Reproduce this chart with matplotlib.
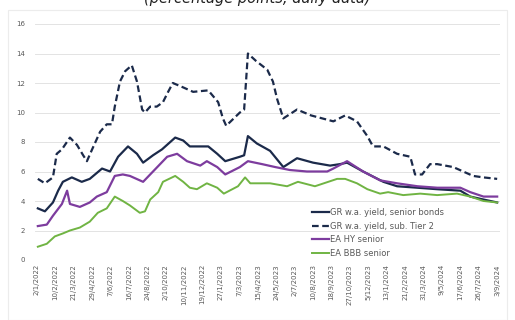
import matplotlib
matplotlib.use('Agg')
import pandas as pd
import numpy as np
from matplotlib import pyplot as plt
from matplotlib.patches import Rectangle

# GR w.a. yield, senior bonds
sr_dates = ['2022-01-04', '2022-01-19', '2022-02-05', '2022-02-16', '2022-02-26', '2022-03-17',
            '2022-04-07', '2022-04-24', '2022-05-20', '2022-06-06', '2022-06-23', '2022-07-14',
            '2022-08-02', '2022-08-15', '2022-09-05', '2022-09-24', '2022-10-22', '2022-11-08',
            '2022-11-22', '2022-12-14', '2022-12-31', '2023-01-19', '2023-02-05', '2023-03-08',
            '2023-03-17', '2023-03-25', '2023-04-13', '2023-05-11', '2023-06-08', '2023-07-07',
            '2023-08-10', '2023-09-15', '2023-10-06', '2023-10-21', '2023-11-24', '2024-01-06',
            '2024-02-04', '2024-03-18', '2024-04-29', '2024-06-17', '2024-07-08', '2024-08-05',
            '2024-09-03']
sr_vals = [3.5, 3.3, 3.9, 4.7, 5.3, 5.6, 5.3, 5.5, 6.2, 6.0, 7.0, 7.7, 7.2, 6.6, 7.1, 7.5, 8.3, 8.1,
           7.7, 7.7, 7.7, 7.2, 6.7, 7.0, 7.1, 8.4, 7.9, 7.4, 6.3, 6.9, 6.6, 6.4, 6.5, 6.6, 6.0, 5.3,
           5.0, 4.9, 4.8, 4.7, 4.3, 4.1, 3.9]

# GR w.a. yield, sub. Tier 2
t2_dates = ['2022-01-04', '2022-01-19', '2022-02-05', '2022-02-13', '2022-02-24', '2022-03-13',
            '2022-03-28', '2022-04-10', '2022-04-18', '2022-04-29', '2022-05-16', '2022-05-30',
            '2022-06-10', '2022-06-16', '2022-06-27', '2022-07-08', '2022-07-22', '2022-08-02',
            '2022-08-13', '2022-08-19', '2022-08-30', '2022-09-13', '2022-09-26', '2022-10-07',
            '2022-10-17', '2022-11-08', '2022-11-29', '2022-12-31', '2023-01-21', '2023-01-31',
            '2023-02-07', '2023-03-08', '2023-03-17', '2023-03-25', '2023-04-11', '2023-05-05',
            '2023-05-17', '2023-05-26', '2023-06-08', '2023-07-07', '2023-08-06', '2023-09-22',
            '2023-10-17', '2023-11-11', '2023-12-03', '2023-12-15', '2024-01-06', '2024-02-04',
            '2024-03-03', '2024-03-13', '2024-03-28', '2024-04-14', '2024-04-29', '2024-06-02',
            '2024-06-23', '2024-07-14', '2024-08-05', '2024-09-03']
t2_vals = [5.5, 5.2, 5.6, 7.2, 7.5, 8.3, 7.8, 7.1, 6.7, 7.5, 8.7, 9.2, 9.2, 10.4, 12.1, 12.8, 13.2,
           12.1, 10.2, 10.0, 10.4, 10.4, 10.7, 11.4, 12.0, 11.7, 11.4, 11.5, 10.7, 9.6, 9.1, 10.0,
           10.2, 14.0, 13.5, 12.9, 12.1, 10.9, 9.6, 10.2, 9.8, 9.4, 9.8, 9.4, 8.4, 7.7, 7.7, 7.2,
           7.0, 5.8, 5.8, 6.5, 6.5, 6.3, 6.0, 5.7, 5.6, 5.5]

# EA HY senior
hy_dates = ['2022-01-04', '2022-01-23', '2022-02-05', '2022-02-24', '2022-03-07', '2022-03-13',
            '2022-04-03', '2022-04-24', '2022-05-09', '2022-05-30', '2022-06-16', '2022-07-03',
            '2022-07-18', '2022-08-15', '2022-09-05', '2022-10-05', '2022-10-26', '2022-11-16',
            '2022-12-14', '2022-12-28', '2023-01-19', '2023-02-05', '2023-03-08', '2023-03-25',
            '2023-04-24', '2023-05-22', '2023-06-22', '2023-07-28', '2023-09-09', '2023-09-22',
            '2023-10-21', '2023-11-24', '2023-12-30', '2024-02-04', '2024-03-18', '2024-04-29',
            '2024-06-17', '2024-07-08', '2024-08-05', '2024-09-03']
hy_vals = [2.3, 2.4, 3.0, 3.8, 4.7, 3.8, 3.6, 3.9, 4.3, 4.6, 5.7, 5.8, 5.7, 5.3, 6.0, 7.0, 7.2, 6.7,
           6.4, 6.7, 6.3, 5.8, 6.3, 6.7, 6.5, 6.3, 6.1, 6.0, 6.0, 6.2, 6.7, 6.0, 5.4, 5.2, 5.0, 4.9,
           4.9, 4.6, 4.3, 4.3]

# EA BBB senior
bbb_dates = ['2022-01-04', '2022-01-23', '2022-02-09', '2022-02-26', '2022-03-13', '2022-04-03',
             '2022-04-24', '2022-05-11', '2022-05-30', '2022-06-16', '2022-07-03', '2022-07-18',
             '2022-08-08', '2022-08-19', '2022-08-30', '2022-09-16', '2022-09-26', '2022-10-22',
             '2022-11-08', '2022-11-22', '2022-12-07', '2022-12-28', '2023-01-19', '2023-02-02',
             '2023-03-04', '2023-03-19', '2023-03-30', '2023-05-11', '2023-06-16', '2023-07-09',
             '2023-08-14', '2023-09-30', '2023-10-17', '2023-11-11', '2023-12-03', '2023-12-30',
             '2024-01-16', '2024-02-17', '2024-03-24', '2024-04-29', '2024-06-10', '2024-07-08',
             '2024-08-05', '2024-09-03']
bbb_vals = [0.9, 1.1, 1.6, 1.8, 2.0, 2.2, 2.6, 3.2, 3.5, 4.3, 4.0, 3.7, 3.2, 3.3, 4.1, 4.6, 5.3, 5.7,
            5.3, 4.9, 4.8, 5.2, 4.9, 4.5, 5.0, 5.6, 5.2, 5.2, 5.0, 5.3, 5.0, 5.5, 5.5, 5.2, 4.8, 4.5,
            4.6, 4.4, 4.5, 4.4, 4.5, 4.3, 4.0, 3.9]

tick_labels = ['2/1/2022', '10/2/2022', '21/3/2022', '29/4/2022', '7/6/2022', '16/7/2022',
               '24/8/2022', '2/10/2022', '10/11/2022', '19/12/2022', '27/1/2023', '7/3/2023',
               '15/4/2023', '24/5/2023', '2/7/2023', '10/8/2023', '18/9/2023', '27/10/2023',
               '5/12/2023', '13/1/2024', '21/2/2024', '31/3/2024', '9/5/2024', '17/6/2024',
               '26/7/2024', '3/9/2024']
tick_dates = pd.to_datetime(tick_labels, format='%d/%m/%Y')

navy = '#1b2a4a'
purple = '#7d3c9e'
green = '#70b443'
grey = '#595959'

fig = plt.figure(figsize=(5.15, 3.2), dpi=100)
ax = fig.add_axes([35 / 515, 1 - 260 / 320, 465 / 515, 236 / 320])

ax.plot(pd.to_datetime(sr_dates), sr_vals, color=navy, lw=1.6, label='GR w.a. yield, senior bonds')
ax.plot(pd.to_datetime(t2_dates), t2_vals, color=navy, lw=1.6, dashes=(3, 1.6),
        label='GR w.a. yield, sub. Tier 2')
ax.plot(pd.to_datetime(hy_dates), hy_vals, color=purple, lw=1.6, label='EA HY senior')
ax.plot(pd.to_datetime(bbb_dates), bbb_vals, color=green, lw=1.4, label='EA BBB senior')

ax.set_ylim(0, 16)
ax.set_yticks(np.arange(0, 17, 2))
ax.set_xlim(tick_dates[0] - pd.Timedelta(days=4), tick_dates[-1] + pd.Timedelta(days=6))
ax.set_xticks(tick_dates)
ax.set_xticklabels(tick_labels, rotation=90)
ax.tick_params(axis='both', length=0, labelsize=5, colors=grey, pad=3)
ax.tick_params(axis='y', pad=7)
ax.grid(axis='y', color='#e3e3e3', lw=0.7)
ax.set_axisbelow(True)
for s in ax.spines.values():
    s.set_visible(False)

ax.legend(loc='upper left', bbox_to_anchor=(308 / 515, 1 - 204 / 320), bbox_transform=fig.transFigure,
          frameon=False, fontsize=6, labelcolor=grey, handlelength=2.0, handletextpad=0.15,
          labelspacing=0.55, borderpad=0)

fig.patches.append(Rectangle((8 / 515, 0.0), 499 / 515, 1 - 10 / 320, transform=fig.transFigure,
                             fill=False, edgecolor='#ececec', lw=0.8))
fig.text(0.5, 1.005, '(percentage points, daily data)', ha='center', va='center', fontsize=10.5,
         style='italic', color='#222222')

fig.savefig('out.png', dpi=100)
